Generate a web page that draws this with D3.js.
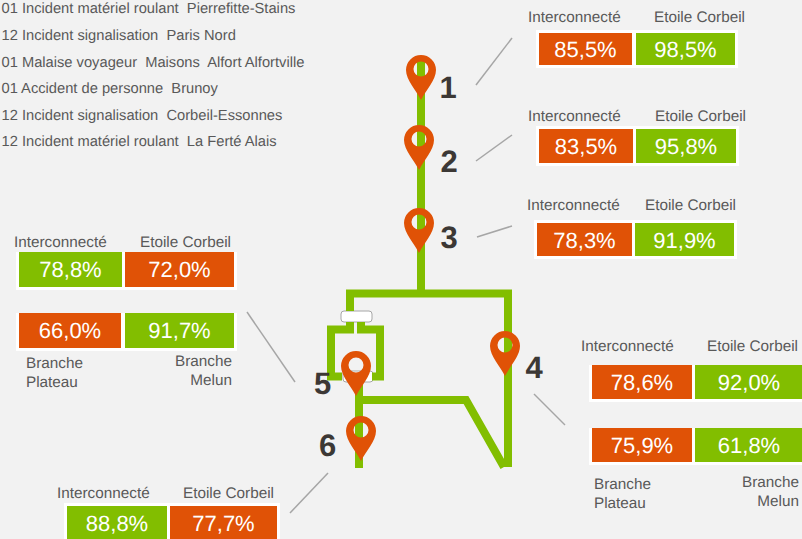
<!DOCTYPE html>
<html>
<head>
<meta charset="utf-8">
<script src="https://cdn.jsdelivr.net/npm/d3@7"></script>
<style>
	html, body { margin: 0; padding: 0; background: #f2f2f2; overflow: hidden; }
	text { font-family: "Liberation Sans", Arial, sans-serif; text-rendering: geometricPrecision; }
</style>
</head>
<body>
<svg id="map" width="802" height="539"></svg>
<script>
// incidents du mois
var incidents = [
	"01 Incident matériel roulant  Pierrefitte-Stains",
	"12 Incident signalisation  Paris Nord",
	"01 Malaise voyageur  Maisons  Alfort Alfortville",
	"01 Accident de personne  Brunoy",
	"12 Incident signalisation  Corbeil-Essonnes",
	"12 Incident matériel roulant  La Ferté Alais"
];

var zones = [1, 2, 3, 4, 5, 6];
var seriesNames = ["Interconnecté", "Etoile Corbeil"];
var branchNames = ["Branche", "Plateau", "Melun"];

// valeurs par ligne de tableau : [gauche, droite]
var rowZone = [1, 2, 3, 4, 4, 5, 5, 6];
var leftValues = [85.5, 83.5, 78.3, 78.6, 75.9, 78.8, 66.0, 88.8];
var rightValues = [98.5, 95.8, 91.9, 92.0, 61.8, 72.0, 91.7, 77.7];
var leftStatus = ["ko", "ko", "ko", "ko", "ko", "ok", "ko", "ok"];
var rightStatus = ["ok", "ok", "ok", "ok", "ok", "ko", "ok", "ko"];

var color = d3.scaleOrdinal().domain(["ok", "ko"]).range(["#82be00", "#e05206"]);
var fmt = function(v) { return d3.format(".1f")(v).replace(".", ",") + "%"; };

var svg = d3.select("#map");

// --- layout ---
var rowBoxes = [
	{x: [539, 632, 636, 735], y: [33, 65], pad: [3, 3, 3, 3]},
	{x: [539, 633, 636, 736], y: [129, 163], pad: [3, 3, 3, 3]},
	{x: [537, 632, 635, 734], y: [223, 256], pad: [3, 3, 3, 3]},
	{x: [592, 692, 695, 803], y: [365, 399], pad: [0, 3, 0, 3]},
	{x: [592, 692, 695, 803], y: [428, 462], pad: [0, 3, 0, 3]},
	{x: [19, 122, 125, 234], y: [252, 287], pad: [0, 3, 0, 3]},
	{x: [19, 121, 125, 234], y: [313, 348], pad: [0, 3, 0, 3]},
	{x: [67, 167, 170, 277], y: [506, 545], pad: [3, 3, 3, 3]}
];
var headerPos = [
	{x: [528, 654], y: 22},
	{x: [528, 655], y: 121},
	{x: [527, 645], y: 210},
	{x: [581, 707], y: 351},
	{x: [14, 140], y: 247},
	{x: [57, 183], y: 498}
];
var zoneLabelPos = [[448, 97.5], [449, 172], [449, 248], [534, 378], [322.5, 393.5], [327.5, 456]];
var pinPos = [[421, 100], [419, 170], [419, 253], [505, 376], [356, 396], [361, 461]];
var connectors = [
	[[476, 85], [512, 38]],
	[[476, 161], [512, 135]],
	[[477, 237], [512, 226]],
	[[534, 394], [565, 425]],
	[[247, 312], [295, 382]],
	[[290, 513], [328, 473]]
];
var trackPaths = [
	[[421, 60], [421, 293.5]],
	[[346, 293.5], [508, 293.5], [508, 467]],
	[[350, 293.5], [350, 311]],
	[[350, 322], [350, 329.5], [331, 329.5], [331, 376.5], [342, 376.5]],
	[[361, 322], [361, 329.5], [380, 329.5], [380, 376.5], [372, 376.5]],
	[[359, 380], [359, 468]],
	[[359, 400], [466, 400], [504, 467]]
];

// --- liste incidents ---
svg.selectAll("text.incident").data(incidents).enter().append("text")
	.attr("class", "incident")
	.attr("x", 1.5)
	.attr("y", function(d, i) { return [13, 40, 67, 93, 120, 146][i]; })
	.attr("fill", "#595959")
	.attr("font-size", 14.7)
	.style("white-space", "pre")
	.text(function(d) { return d; });

// --- plan de ligne ---
var line = d3.line();
var boxes = [[341, 311, 31, 11], [343, 371, 30, 11]];

svg.selectAll("rect.box").data(boxes).enter().append("rect")
	.attr("class", "box")
	.attr("x", function(d) { return d[0]; })
	.attr("y", function(d) { return d[1]; })
	.attr("width", function(d) { return d[2]; })
	.attr("height", function(d) { return d[3]; })
	.attr("rx", 3)
	.attr("fill", "#fff")
	.attr("stroke", "#a6a6a6")
	.attr("stroke-width", 1);

svg.selectAll("path.track").data(trackPaths).enter().append("path")
	.attr("class", "track")
	.attr("d", line)
	.attr("fill", "none")
	.attr("stroke", "#82be00")
	.attr("stroke-width", 8)
	.attr("stroke-linecap", "butt")
	.attr("stroke-linejoin", "miter");

svg.selectAll("path.connector").data(connectors).enter().append("path")
	.attr("class", "connector")
	.attr("d", line)
	.attr("fill", "none")
	.attr("stroke", "#a6a6a6")
	.attr("stroke-width", 1.5);

// goutte avec trou, pointe en (0,0)
function pinShape() {
	var p = d3.path();
	p.moveTo(0, 0);
	p.bezierCurveTo(-5, -10, -15, -20, -15, -30);
	p.arc(0, -30, 15, Math.PI, 0);
	p.bezierCurveTo(15, -20, 5, -10, 0, 0);
	p.closePath();
	p.moveTo(7.5, -31);
	p.arc(0, -31, 7.5, 0, 2 * Math.PI);
	p.closePath();
	return p.toString();
}

svg.selectAll("path.pin").data(pinPos).enter().append("path")
	.attr("class", "pin")
	.attr("d", pinShape())
	.attr("transform", function(d) { return "translate(" + d[0] + "," + d[1] + ")"; })
	.attr("fill", "#e05206")
	.attr("fill-rule", "evenodd");

svg.selectAll("text.zone").data(zones).enter().append("text")
	.attr("class", "zone")
	.attr("x", function(d, i) { return zoneLabelPos[i][0]; })
	.attr("y", function(d, i) { return zoneLabelPos[i][1]; })
	.attr("text-anchor", "middle")
	.attr("font-size", 31)
	.attr("font-weight", "bold")
	.attr("fill", "#3c3835")
	.text(function(d) { return d; });

// --- tableaux ---
svg.selectAll("rect.backing").data(rowBoxes).enter().append("rect")
	.attr("class", "backing")
	.attr("x", function(d) { return d.x[0] - 3; })
	.attr("y", function(d) { return d.y[0] - d.pad[0]; })
	.attr("width", function(d) { return d.x[3] - d.x[0] + 6; })
	.attr("height", function(d) { return d.y[1] - d.y[0] + d.pad[0] + d.pad[1]; })
	.attr("fill", "#fff");

rowZone.forEach(function(zone, i) {
	var box = rowBoxes[i];
	var cells = [
		{x0: box.x[0], x1: box.x[1], v: leftValues[i], s: leftStatus[i]},
		{x0: box.x[2], x1: box.x[3], v: rightValues[i], s: rightStatus[i]}
	];
	var g = svg.append("g").attr("class", "row zone" + zone);
	g.selectAll("rect").data(cells).enter().append("rect")
		.attr("x", function(d) { return d.x0; })
		.attr("y", box.y[0])
		.attr("width", function(d) { return d.x1 - d.x0; })
		.attr("height", box.y[1] - box.y[0])
		.attr("fill", function(d) { return color(d.s); });
	g.selectAll("text").data(cells).enter().append("text")
		.attr("x", function(d) { return (d.x0 + d.x1) / 2; })
		.attr("y", Math.min(box.y[0] + 25, (box.y[0] + box.y[1]) / 2 + 8))
		.attr("text-anchor", "middle")
		.attr("font-size", 22)
		.attr("fill", "#fff")
		.text(function(d) { return fmt(d.v); });
});

headerPos.forEach(function(h) {
	svg.selectAll(null).data(seriesNames).enter().append("text")
		.attr("x", function(d, i) { return h.x[i]; })
		.attr("y", h.y)
		.attr("font-size", 15.3)
		.attr("fill", "#595959")
		.text(function(d) { return d; });
});

// libelles branches
var branchLabels = [
	{t: branchNames[0], x: 26, y: 368, a: "start"},
	{t: branchNames[1], x: 26, y: 387, a: "start"},
	{t: branchNames[0], x: 232, y: 366, a: "end"},
	{t: branchNames[2], x: 232, y: 385, a: "end"},
	{t: branchNames[0], x: 594, y: 489, a: "start"},
	{t: branchNames[1], x: 594, y: 508, a: "start"},
	{t: branchNames[0], x: 799, y: 487, a: "end"},
	{t: branchNames[2], x: 799, y: 506, a: "end"}
];
svg.selectAll("text.branch").data(branchLabels).enter().append("text")
	.attr("class", "branch")
	.attr("x", function(d) { return d.x; })
	.attr("y", function(d) { return d.y; })
	.attr("text-anchor", function(d) { return d.a; })
	.attr("font-size", 15.3)
	.attr("fill", "#595959")
	.text(function(d) { return d.t; });
</script>
</body>
</html>
